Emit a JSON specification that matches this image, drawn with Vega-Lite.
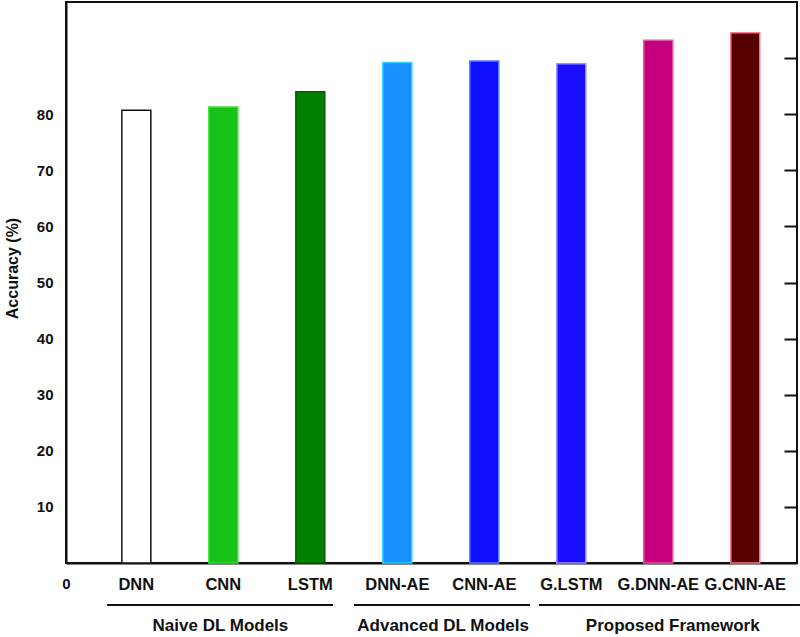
{
  "$schema": "https://vega.github.io/schema/vega-lite/v6.json",
  "width": 731,
  "height": 561,
  "autosize": {"type": "none"},
  "padding": {"left": 66, "top": 2, "right": 3, "bottom": 74},
  "background": "white",
  "config": {
    "view": {"stroke": "#111111", "strokeWidth": 2},
    "font": "Liberation Sans"
  },
  "datasets": {
    "bars": [
      {"model": "DNN", "accuracy": 80.7},
      {"model": "CNN", "accuracy": 81.3},
      {"model": "LSTM", "accuracy": 84.0},
      {"model": "DNN-AE", "accuracy": 89.2},
      {"model": "CNN-AE", "accuracy": 89.5},
      {"model": "G.LSTM", "accuracy": 89.0},
      {"model": "G.DNN-AE", "accuracy": 93.2},
      {"model": "G.CNN-AE", "accuracy": 94.5}
    ],
    "groups": [
      {"group": "Naive DL Models", "start": -0.333, "end": 2.264, "mid": 0.97},
      {"group": "Advanced DL Models", "start": 2.506, "end": 4.529, "mid": 3.53},
      {"group": "Proposed Framework", "start": 4.632, "end": 7.632, "mid": 6.17}
    ]
  },
  "resolve": {
    "scale": {"x": "independent"},
    "axis": {"x": "independent", "y": "independent"}
  },
  "layer": [
    {
      "data": {"name": "bars"},
      "mark": {"type": "bar", "strokeWidth": 1.5},
      "encoding": {
        "x": {
          "field": "model",
          "type": "nominal",
          "sort": null,
          "scale": {
            "domain": ["DNN", "CNN", "LSTM", "DNN-AE", "CNN-AE", "G.LSTM", "G.DNN-AE", "G.CNN-AE"],
            "paddingInner": 0.667,
            "paddingOuter": 0.535,
            "align": 0.6
          },
          "axis": {
            "title": null,
            "labelAngle": 0,
            "labelFont": "Liberation Sans",
            "labelFontWeight": "bold",
            "labelFontSize": 16.5,
            "labelColor": "#111111",
            "labelPadding": 13,
            "ticks": false,
            "tickSize": 0,
            "domainColor": "#111111",
            "domainWidth": 2
          }
        },
        "y": {
          "field": "accuracy",
          "type": "quantitative",
          "scale": {"domain": [0, 100], "nice": false, "zero": true},
          "axis": {
            "orient": "left",
            "title": "Accuracy (%)",
            "titleFont": "Liberation Sans",
            "titleFontWeight": "bold",
            "titleFontSize": 16,
            "titleColor": "#111111",
            "titlePadding": 16,
            "titleY": 266,
            "values": [0, 10, 20, 30, 40, 50, 60, 70, 80],
            "grid": false,
            "ticks": false,
            "tickSize": 0,
            "labelOverlap": false,
            "labelFont": "Liberation Sans",
            "labelFontWeight": "bold",
            "labelFontSize": 15,
            "labelColor": "#111111",
            "labelAlign": {"condition": {"test": "datum.value === 0", "value": "center"}, "value": "right"},
            "labelPadding": {"condition": {"test": "datum.value === 0", "value": 0}, "value": 13},
            "labelOffset": {"condition": {"test": "datum.value === 0", "value": 20}, "value": 0},
            "domainColor": "#111111",
            "domainWidth": 2
          }
        },
        "fill": {
          "field": "model",
          "type": "nominal",
          "legend": null,
          "scale": {
            "domain": ["DNN", "CNN", "LSTM", "DNN-AE", "CNN-AE", "G.LSTM", "G.DNN-AE", "G.CNN-AE"],
            "range": ["#ffffff", "#17C217", "#008000", "#1890FF", "#0F0FFF", "#1A10FF", "#C4007F", "#570000"]
          }
        },
        "stroke": {
          "field": "model",
          "type": "nominal",
          "legend": null,
          "scale": {
            "domain": ["DNN", "CNN", "LSTM", "DNN-AE", "CNN-AE", "G.LSTM", "G.DNN-AE", "G.CNN-AE"],
            "range": ["#111111", "#3ADF3A", "#005F00", "#2FD0FF", "#5A7CFF", "#9C8CFF", "#E6559F", "#F47A98"]
          }
        }
      }
    },
    {
      "data": {"name": "groups"},
      "mark": {"type": "rule", "strokeWidth": 2, "color": "#111111", "clip": false},
      "encoding": {
        "x": {"field": "start", "type": "quantitative", "scale": {"domain": [-0.805, 7.598], "nice": false, "zero": false}, "axis": null},
        "x2": {"field": "end"},
        "y": {"datum": -7.5, "type": "quantitative", "axis": null}
      }
    },
    {
      "data": {"name": "groups"},
      "mark": {"type": "text", "font": "Liberation Sans", "fontWeight": "bold", "fontSize": 17, "color": "#111111", "baseline": "middle", "align": "center", "clip": false},
      "encoding": {
        "x": {"field": "mid", "type": "quantitative", "scale": {"domain": [-0.805, 7.598], "nice": false, "zero": false}, "axis": null},
        "y": {"datum": -11.2, "type": "quantitative", "axis": null},
        "text": {"field": "group"}
      }
    },
    {
      "data": {"name": "bars"},
      "mark": {"type": "point", "opacity": 0},
      "encoding": {
        "y": {
          "field": "accuracy",
          "type": "quantitative",
          "axis": {
            "orient": "right",
            "title": null,
            "labels": false,
            "domain": false,
            "grid": false,
            "ticks": true,
            "tickSize": -13,
            "tickWidth": 2,
            "tickColor": "#111111",
            "values": [10, 20, 30, 40, 50, 60, 70, 80, 90]
          }
        }
      }
    }
  ]
}
